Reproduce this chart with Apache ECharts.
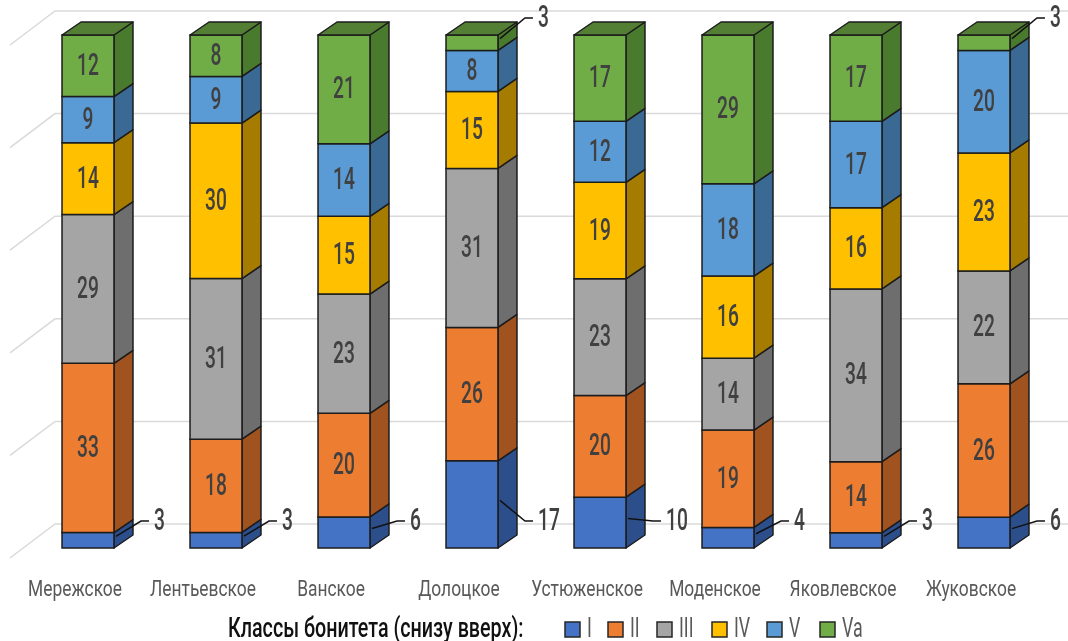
<!DOCTYPE html>
<html>
<head>
<meta charset="utf-8">
<script src="https://cdn.jsdelivr.net/npm/echarts@6/dist/echarts.min.js"></script>
<style>
html,body{margin:0;padding:0;background:#fff;}
#c{width:1068px;height:641px;}
</style>
</head>
<body>
<div id="c"></div>
<script>
const categories = ['Мережское','Лентьевское','Ванское','Долоцкое','Устюженское','Моденское','Яковлевское','Жуковское'];
const classNames = ['I','II','III','IV','V','Va'];
const classI   = [3, 3, 6, 17, 10, 4, 3, 6];
const classII  = [33, 18, 20, 26, 20, 19, 14, 26];
const classIII = [29, 31, 23, 31, 23, 14, 34, 22];
const classIV  = [14, 30, 15, 15, 19, 16, 16, 23];
const classV   = [9, 9, 14, 8, 12, 18, 17, 20];
const classVa  = [12, 8, 21, 3, 17, 29, 17, 3];
const gridTicks = [0, 20, 40, 60, 80, 100];
const legendTitle = 'Классы бонитета (снизу вверх):';

const allClasses = [classI, classII, classIII, classIV, classV, classVa];
const frontColors = ['#4472C4','#ED7D31','#A5A5A5','#FFC000','#5B9BD5','#70AD47'];
const sideColors  = ['#2C4F8C','#A0521F','#6E6E6E','#A67C00','#3A6A94','#4A7A2E'];
const topColors   = ['#35609F','#B75E24','#848484','#C09000','#467EAF','#527F34'];
const FONT = "Roboto,'DejaVu Sans Condensed',sans-serif";
const DX = 19, DY = 13;
const EDGE = '#1c1c1c';

const totals = categories.map((_, i) => allClasses.reduce((s, a) => s + a[i], 0));
function seriesData(k) {
  return categories.map((_, i) => {
    let base = 0;
    for (let j = 0; j < k; j++) base += allClasses[j][i];
    const start = base / totals[i] * 100;
    const end = (base + allClasses[k][i]) / totals[i] * 100;
    return [i, start, end, allClasses[k][i]];
  });
}

function makeRender(k) {
  return function (params, api) {
    const ci = api.value(0);
    const cx = api.coord([ci, 0])[0];
    const yb = api.coord([ci, api.value(1)])[1];
    const yt = api.coord([ci, api.value(2)])[1];
    const w = api.size([1, 0])[0] * 0.406;
    const xl = cx - w / 2, xr = cx + w / 2;
    const val = api.value(3);
    const children = [];
    children.push({
      type: 'polygon',
      shape: { points: [[xr, yt], [xr + DX, yt - DY], [xr + DX, yb - DY], [xr, yb]] },
      style: { fill: sideColors[k], stroke: EDGE, lineWidth: 1.5, lineJoin: 'round' }
    });
    children.push({
      type: 'rect',
      shape: { x: xl, y: yt, width: w, height: yb - yt },
      style: { fill: frontColors[k], stroke: EDGE, lineWidth: 1.5 }
    });
    if (k === allClasses.length - 1) {
      children.push({
        type: 'polygon',
        shape: { points: [[xl, yt], [xl + DX, yt - DY], [xr + DX, yt - DY], [xr, yt]] },
        style: { fill: topColors[k], stroke: EDGE, lineWidth: 1.5, lineJoin: 'round' }
      });
    }
    const ym = (yt + yb) / 2;
    const outside = (k === 0) || val < 5;
    if (!outside) {
      children.push({
        type: 'text', x: cx, y: ym + 1, scaleX: 0.6,
        style: { text: String(val), fill: '#404040', font: '500 32px ' + FONT, align: 'center', verticalAlign: 'middle' }
      });
    } else {
      const yl = (k === 0) ? (yb - 27) : (yt - 17);
      const ys = ym - 4;
      children.push({
        type: 'polyline',
        shape: { points: [[xr + 2, ys], [xr + 27, yl], [xr + 35, yl]] },
        style: { stroke: '#111', lineWidth: 1.5, fill: null }
      });
      children.push({
        type: 'text', x: xr + 40, y: yl + 1, scaleX: 0.6,
        style: { text: String(val), fill: '#404040', font: '500 32px ' + FONT, align: 'left', verticalAlign: 'middle' }
      });
    }
    if (k === 0) {
      children.push({
        type: 'text', x: cx - 13, y: yb + 42, scaleX: 0.79,
        style: { text: categories[ci], fill: '#595959', font: '22px ' + FONT, align: 'center', verticalAlign: 'middle' }
      });
    }
    return { type: 'group', children: children };
  };
}

function renderGrid(params, api) {
  const v = api.value(0);
  const y = api.coord([0, v])[1];
  const cs = params.coordSys;
  return {
    type: 'polyline',
    shape: { points: [[cs.x - 14, y + 10], [cs.x + 31, y - 24], [1068, y - 24]] },
    style: { stroke: '#dadada', lineWidth: 1.5, fill: null }
  };
}

const series = [{
  type: 'custom', name: 'grid', silent: true, z: 1,
  renderItem: renderGrid,
  data: gridTicks.map(t => [t]),
  encode: { y: 0 }
}];
classNames.forEach((n, k) => {
  series.push({
    type: 'custom', name: n, z: 2,
    renderItem: makeRender(k),
    itemStyle: { color: frontColors[k] },
    data: seriesData(k),
    encode: { x: 0, y: [1, 2] }
  });
});

const legendX = [565, 608, 657, 712, 767, 820];
const graphic = [{
  type: 'text', x: 228, y: 630, scaleX: 0.73,
  style: { text: legendTitle, fill: '#111111', font: '500 27px ' + FONT, verticalAlign: 'middle' }
}];
classNames.forEach((n, k) => {
  graphic.push({
    type: 'rect', shape: { x: legendX[k], y: 622, width: 15, height: 15 },
    style: { fill: frontColors[k], stroke: '#262626', lineWidth: 1.5 }
  });
  graphic.push({
    type: 'text', x: legendX[k] + 22, y: 630, scaleX: 0.66,
    style: { text: n, fill: '#595959', font: '27px ' + FONT, verticalAlign: 'middle' }
  });
});

const chart = echarts.init(document.getElementById('c'), null, { renderer: 'canvas' });
chart.setOption({
  animation: false,
  backgroundColor: '#ffffff',
  grid: { left: 24, right: 20, top: 35, bottom: 93 },
  xAxis: {
    type: 'category', data: categories,
    axisLine: { show: false }, axisTick: { show: false }, axisLabel: { show: false }
  },
  yAxis: {
    type: 'value', min: 0, max: 100, interval: 20,
    show: false, splitLine: { show: false }
  },
  graphic: graphic,
  series: series
});
</script>
</body>
</html>
